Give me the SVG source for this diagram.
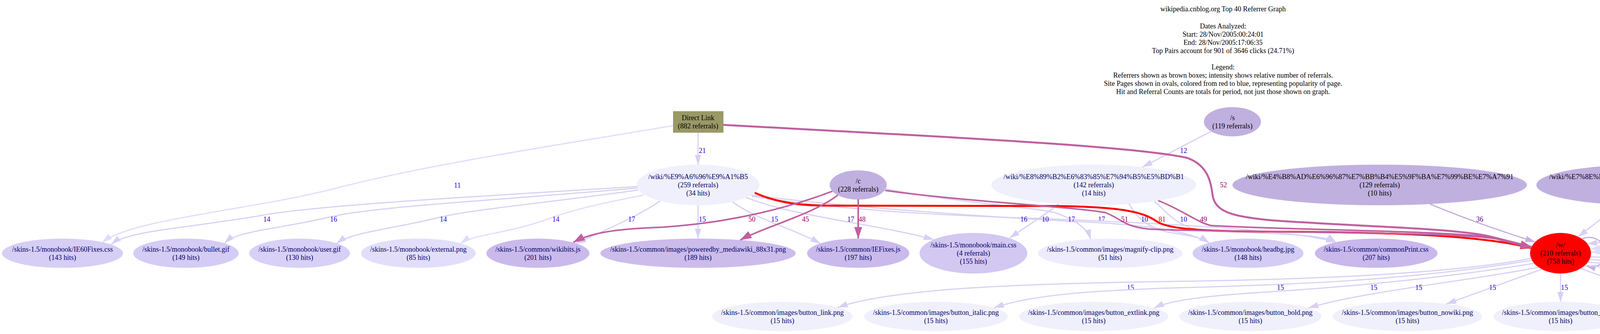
<svg xmlns="http://www.w3.org/2000/svg" width="6265" height="856" viewBox="0 0 6265 856">
<style>
text{font-family:"Liberation Serif","Times New Roman",serif;font-size:18px;text-anchor:middle}
.tr{fill:#000000}
.tp{fill:#000066}
.lb{fill:#3300cc}
.lm{fill:#990066}
.lr{fill:#ee0000}
.ld{fill:#660099}
.e{fill:none}
.e0{stroke:#e0dcfc;stroke-width:3}
.e1{stroke:#d8d0f4;stroke-width:3}
.e2{stroke:#c4b0e2;stroke-width:3}
.em{stroke:#c060a0;stroke-width:4}
.emw{stroke:#c060a0;stroke-width:5}
.er{stroke:#ff0000;stroke-width:5}
.ref{fill:#c0b0e0}
.pg0{fill:#f0f0fc}
</style>
<defs>
<marker id="a0" viewBox="0 0 26 16" refX="25" refY="8" markerWidth="26" markerHeight="16" markerUnits="userSpaceOnUse" orient="auto"><path d="M0,0L26,8L0,16z" fill="#e0dcfc"/></marker>
<marker id="a1" viewBox="0 0 26 16" refX="25" refY="8" markerWidth="26" markerHeight="16" markerUnits="userSpaceOnUse" orient="auto"><path d="M0,0L26,8L0,16z" fill="#d8d0f4"/></marker>
<marker id="a2" viewBox="0 0 26 16" refX="25" refY="8" markerWidth="26" markerHeight="16" markerUnits="userSpaceOnUse" orient="auto"><path d="M0,0L26,8L0,16z" fill="#c4b0e2"/></marker>
<marker id="am" viewBox="0 0 30 20" refX="29" refY="10" markerWidth="30" markerHeight="20" markerUnits="userSpaceOnUse" orient="auto"><path d="M0,0L30,10L0,20z" fill="#c060a0"/></marker>
<marker id="ar" viewBox="0 0 30 20" refX="29" refY="10" markerWidth="30" markerHeight="20" markerUnits="userSpaceOnUse" orient="auto"><path d="M0,0L30,10L0,20z" fill="#ff0000"/></marker>
</defs>
<rect x="0" y="0" width="6265" height="856" fill="#ffffff"/>
<g id="title" class="tr">
<text x="3131" y="29">wikipedia.cnblog.org Top 40 Referrer Graph</text>
<text x="3131" y="73">Dates Analyzed:</text>
<text x="3131" y="94">Start: 28/Nov/2005:00:24:01</text>
<text x="3131" y="115">End: 28/Nov/2005:17:06:35</text>
<text x="3131" y="136">Top Pairs account for 901 of 3646 clicks (24.71%)</text>
<text x="3131" y="178">Legend:</text>
<text x="3131" y="199">Referrers shown as brown boxes; intensity shows relative number of referrals.</text>
<text x="3131" y="220">Site Pages shown in ovals, colored from red to blue, representing popularity of page.</text>
<text x="3131" y="241">Hit and Referral Counts are totals for period, not just those shown on graph.</text>
</g>
<g id="nodes">
<g id="n_direct"><rect x="1723" y="285" width="129" height="55" fill="#999966"/><text class="tr" x="1787" y="308">Direct Link</text><text class="tr" x="1787" y="329">(882 referrals)</text></g>
<g id="n_s"><ellipse class="ref" cx="3155" cy="312" rx="73" ry="37.5"/><text class="tr" x="3155" y="308">/s</text><text class="tr" x="3155" y="329">(119 referrals)</text></g>
<g id="n_shouye"><ellipse class="pg0" cx="1787" cy="474" rx="157" ry="52"/><text class="tp" x="1787" y="459">/wiki/%E9%A6%96%E9%A1%B5</text><text class="tp" x="1787" y="480">(259 referrals)</text><text class="tp" x="1787" y="501">(34 hits)</text></g>
<g id="n_c"><ellipse class="ref" cx="2197" cy="474" rx="73" ry="37.5"/><text class="tr" x="2197" y="470">/c</text><text class="tr" x="2197" y="491">(228 referrals)</text></g>
<g id="n_seqing"><ellipse class="pg0" cx="2800" cy="474" rx="262" ry="52"/><text class="tp" x="2800" y="459">/wiki/%E8%89%B2%E6%83%85%E7%94%B5%E5%BD%B1</text><text class="tp" x="2800" y="480">(142 referrals)</text><text class="tp" x="2800" y="501">(14 hits)</text></g>
<g id="n_zhongwen"><ellipse class="ref" cx="3532" cy="474" rx="377" ry="52"/><text class="tr" x="3532" y="459">/wiki/%E4%B8%AD%E6%96%87%E7%BB%B4%E5%9F%BA%E7%99%BE%E7%A7%91</text><text class="tr" x="3532" y="480">(129 referrals)</text><text class="tr" x="3532" y="501">(10 hits)</text></g>
<g id="n_xiandai"><ellipse class="ref" cx="4207" cy="474" rx="274" ry="52"/><text class="tr" x="4207" y="459">/wiki/%E7%8E%B0%E4%BB%A3%E6%B1%BD%E8%BD%A6</text><text class="tr" x="4207" y="480">(43 referrals)</text><text class="tr" x="4207" y="501">(3 hits)</text></g>
<g id="n_meiguo"><ellipse class="ref" cx="4773" cy="474" rx="270" ry="52"/><text class="tr" x="4773" y="459">/wiki/%E7%BE%8E%E5%9C%8B%E7%B8%BD%E7%B5%B1</text><text class="tr" x="4773" y="480">(42 referrals)</text><text class="tr" x="4773" y="501">(3 hits)</text></g>
<g id="n_talk"><ellipse class="ref" cx="5389" cy="474" rx="322" ry="52"/><text class="tr" x="5389" y="459">/wiki/Wikipedia_talk:%E7%8B%80%E6%B3%81%E5%9B%9E%E5%A0%B1</text><text class="tr" x="5389" y="480">(39 referrals)</text><text class="tr" x="5389" y="501">(3 hits)</text></g>
<g id="n_kongju"><ellipse class="ref" cx="5997" cy="474" rx="261" ry="52"/><text class="tr" x="5997" y="459">/wiki/%E6%81%90%E6%83%A7%E7%8A%B6%E6%80%81</text><text class="tr" x="5997" y="480">(12 referrals)</text><text class="tr" x="5997" y="501">(3 hits)</text></g>

<g id="n_ie60"><ellipse fill="#d6cef4" cx="160" cy="649" rx="155" ry="37.5"/><text class="tp" x="160" y="645">/skins-1.5/monobook/IE60Fixes.css</text><text class="tp" x="160" y="666">(143 hits)</text></g>
<g id="n_bullet"><ellipse fill="#d4ccf4" cx="476" cy="649" rx="135" ry="37.5"/><text class="tp" x="476" y="645">/skins-1.5/monobook/bullet.gif</text><text class="tp" x="476" y="666">(149 hits)</text></g>
<g id="n_user"><ellipse fill="#d8d0f6" cx="767" cy="649" rx="129" ry="37.5"/><text class="tp" x="767" y="645">/skins-1.5/monobook/user.gif</text><text class="tp" x="767" y="666">(130 hits)</text></g>
<g id="n_external"><ellipse fill="#e2defa" cx="1071" cy="649" rx="147" ry="37.5"/><text class="tp" x="1071" y="645">/skins-1.5/monobook/external.png</text><text class="tp" x="1071" y="666">(85 hits)</text></g>
<g id="n_wikibits"><ellipse fill="#cabaec" cx="1377" cy="649" rx="132" ry="37.5"/><text class="tp" x="1377" y="645">/skins-1.5/common/wikibits.js</text><text class="tp" x="1377" y="666">(201 hits)</text></g>
<g id="n_poweredby"><ellipse fill="#ccbcec" cx="1787" cy="649" rx="250" ry="37.5"/><text class="tp" x="1787" y="645">/skins-1.5/common/images/poweredby_mediawiki_88x31.png</text><text class="tp" x="1787" y="666">(189 hits)</text></g>
<g id="n_iefixes"><ellipse fill="#cabaec" cx="2197" cy="649" rx="131" ry="37.5"/><text class="tp" x="2197" y="645">/skins-1.5/common/IEFixes.js</text><text class="tp" x="2197" y="666">(197 hits)</text></g>
<g id="n_main"><ellipse fill="#d2c8f2" cx="2492" cy="649" rx="138" ry="52"/><text class="tp" x="2492" y="634">/skins-1.5/monobook/main.css</text><text class="tp" x="2492" y="655">(4 referrals)</text><text class="tp" x="2492" y="676">(155 hits)</text></g>
<g id="n_magnify"><ellipse fill="#eeecfc" cx="2842" cy="649" rx="185" ry="37.5"/><text class="tp" x="2842" y="645">/skins-1.5/common/images/magnify-clip.png</text><text class="tp" x="2842" y="666">(51 hits)</text></g>
<g id="n_headbg"><ellipse fill="#d4ccf4" cx="3195" cy="649" rx="142" ry="37.5"/><text class="tp" x="3195" y="645">/skins-1.5/monobook/headbg.jpg</text><text class="tp" x="3195" y="666">(148 hits)</text></g>
<g id="n_commonprint"><ellipse fill="#c8b8ec" cx="3523" cy="649" rx="157" ry="37.5"/><text class="tp" x="3523" y="645">/skins-1.5/common/commonPrint.css</text><text class="tp" x="3523" y="666">(207 hits)</text></g>
<g id="n_w"><ellipse fill="#ff0000" cx="3995" cy="649" rx="78" ry="52"/><text class="tr" x="3995" y="634">/w/</text><text class="tr" x="3995" y="655">(210 referrals)</text><text class="tr" x="3995" y="676">(758 hits)</text></g>

<g id="n_link"><ellipse class="pg0" cx="2003" cy="811" rx="180" ry="37.5"/><text class="tp" x="2003" y="807">/skins-1.5/common/images/button_link.png</text><text class="tp" x="2003" y="828">(15 hits)</text></g>
<g id="n_italic"><ellipse class="pg0" cx="2396" cy="811" rx="184" ry="37.5"/><text class="tp" x="2396" y="807">/skins-1.5/common/images/button_italic.png</text><text class="tp" x="2396" y="828">(15 hits)</text></g>
<g id="n_extlink"><ellipse class="pg0" cx="2800" cy="811" rx="191" ry="37.5"/><text class="tp" x="2800" y="807">/skins-1.5/common/images/button_extlink.png</text><text class="tp" x="2800" y="828">(15 hits)</text></g>
<g id="n_bold"><ellipse class="pg0" cx="3201" cy="811" rx="182" ry="37.5"/><text class="tp" x="3201" y="807">/skins-1.5/common/images/button_bold.png</text><text class="tp" x="3201" y="828">(15 hits)</text></g>
<g id="n_nowiki"><ellipse class="pg0" cx="3603" cy="811" rx="191" ry="37.5"/><text class="tp" x="3603" y="807">/skins-1.5/common/images/button_nowiki.png</text><text class="tp" x="3603" y="828">(15 hits)</text></g>
<g id="n_hr"><ellipse class="pg0" cx="3995" cy="811" rx="172" ry="37.5"/><text class="tp" x="3995" y="807">/skins-1.5/common/images/button_hr.png</text><text class="tp" x="3995" y="828">(15 hits)</text></g>
<g id="n_math"><ellipse class="pg0" cx="4380" cy="811" rx="186" ry="37.5"/><text class="tp" x="4380" y="807">/skins-1.5/common/images/button_math.png</text><text class="tp" x="4380" y="828">(15 hits)</text></g>
<g id="n_media"><ellipse class="pg0" cx="4780" cy="811" rx="189" ry="37.5"/><text class="tp" x="4780" y="807">/skins-1.5/common/images/button_media.png</text><text class="tp" x="4780" y="828">(15 hits)</text></g>
<g id="n_image"><ellipse class="pg0" cx="5187" cy="811" rx="190" ry="37.5"/><text class="tp" x="5187" y="807">/skins-1.5/common/images/button_image.png</text><text class="tp" x="5187" y="828">(15 hits)</text></g>
<g id="n_headline"><ellipse class="pg0" cx="5600" cy="811" rx="197" ry="37.5"/><text class="tp" x="5600" y="807">/skins-1.5/common/images/button_headline.png</text><text class="tp" x="5600" y="828">(15 hits)</text></g>
<g id="n_sig"><ellipse class="pg0" cx="6001" cy="811" rx="177" ry="37.5"/><text class="tp" x="6001" y="807">/skins-1.5/common/images/button_sig.png</text><text class="tp" x="6001" y="828">(15 hits)</text></g>
</g>

<g id="connectors">
<path class="e e1" d="M1787,340 L1787,422" marker-end="url(#a1)"/><text class="lb" x="1798" y="392">21</text>
<path class="e e0" d="M1723,322 C1500,360 1100,420 870,480 C640,540 340,560 262,621" marker-end="url(#a0)"/><text class="lb" x="1171" y="481">11</text>
<path class="e e1" d="M1632,478 C1200,505 820,525 670,552 C480,585 330,590 285,626" marker-end="url(#a1)"/><text class="lb" x="683" y="568">14</text>
<path class="e e1" d="M1632,482 C1250,515 950,530 845,556 C700,590 610,590 575,623" marker-end="url(#a1)"/><text class="lb" x="854" y="568">16</text>
<path class="e e1" d="M1634,487 C1400,520 1220,535 1125,557 C990,590 900,595 862,624" marker-end="url(#a1)"/><text class="lb" x="1135" y="568">14</text>
<path class="e e0" d="M1648,500 C1520,525 1460,540 1412,558 C1300,600 1210,600 1180,624" marker-end="url(#a0)"/><text class="lb" x="1423" y="568">14</text>
<path class="e e1" d="M1690,515 C1640,550 1560,585 1475,624" marker-end="url(#a1)"/><text class="lb" x="1617" y="568">17</text>
<path class="e e1" d="M1787,526 L1787,611" marker-end="url(#a1)"/><text class="lb" x="1798" y="568">15</text>
<path class="e e1" d="M1875,517 C1930,560 2040,590 2100,624" marker-end="url(#a1)"/><text class="lb" x="1983" y="568">15</text>
<path class="e e1" d="M1910,506 C2030,555 2250,575 2390,614" marker-end="url(#a1)"/><text class="lb" x="2178" y="568">17</text>
<path class="e e1" d="M1923,500 C2200,535 2600,560 2800,570 C2950,578 3050,595 3095,622" marker-end="url(#a1)"/><text class="lb" x="2820" y="568">17</text>
<path class="e e1" d="M1925,503 C2200,545 2500,555 2665,560 C2900,570 3300,585 3420,621" marker-end="url(#a1)"/><text class="lb" x="2676" y="568">10</text>
<path class="e e1" d="M2268,484 C2450,520 2640,530 2700,545 C2760,565 2785,590 2792,613" marker-end="url(#a1)"/><text class="lb" x="2743" y="568">17</text>
<path class="e e1" d="M2710,523 C2670,555 2620,585 2585,610" marker-end="url(#a1)"/><text class="lb" x="2621" y="568">16</text>
<path class="e e1" d="M2890,522 C2910,555 2930,580 2990,595 C3040,603 3075,608 3095,622" marker-end="url(#a1)"/><text class="lb" x="2930" y="568">10</text>
<path class="e e1" d="M2955,516 C2990,545 3010,580 3080,592 C3250,598 3390,600 3420,621" marker-end="url(#a1)"/><text class="lb" x="3030" y="568">10</text>
<path class="e e1" d="M3100,337 L2925,428" marker-end="url(#a1)"/><text class="lb" x="3030" y="392">12</text>
<path class="e er" d="M1932,494 C1990,520 2050,527 2117,527 L2700,528 C2880,530 2930,545 2962,568 C2995,590 3100,593 3300,594 C3600,596 3800,605 3921,636" marker-end="url(#ar)"/><text class="lr" x="2975" y="568">81</text>
<path class="e em" d="M2131,490 C2000,540 1850,572 1700,582 C1600,586 1520,592 1468,621" marker-end="url(#am)"/><text class="lm" x="1925" y="568">50</text>
<path class="e em" d="M2145,500 C2080,550 1960,580 1895,615" marker-end="url(#am)"/><text class="lm" x="2062" y="568">45</text>
<path class="e em" d="M2197,511 L2197,611" marker-end="url(#am)"/><text class="lm" x="2207" y="568">48</text>
<path class="e em" d="M2266,488 C2450,515 2750,530 2830,545 C2870,560 2875,580 2940,587 C3100,596 3700,592 3830,612 L3921,635" marker-end="url(#am)"/><text class="lm" x="2879" y="568">51</text>
<path class="e em" d="M2965,514 C3030,540 3065,570 3100,578 C3300,590 3700,590 3830,610 L3921,634" marker-end="url(#am)"/><text class="lm" x="3081" y="568">49</text>
<path class="e emw" d="M1852,320 C2300,345 2900,372 3040,405 C3095,425 3100,470 3105,505 C3115,545 3160,556 3260,565 C3500,582 3750,585 3830,610 L3921,633" marker-end="url(#am)"/><text class="lm" x="3132" y="480">52</text>
<path class="e e2" d="M3661,523 C3750,560 3850,595 3930,620" marker-end="url(#a2)"/><text class="ld" x="3788" y="568">36</text>
<path class="e e1" d="M4145,525 L4040,607" marker-end="url(#a1)"/><text class="lb" x="4117" y="568">13</text>
<path class="e e1" d="M4597,513 C4450,560 4250,605 4064,625" marker-end="url(#a1)"/><text class="lb" x="4438" y="568">13</text>
<path class="e e0" d="M5164,511 C4900,555 4400,615 4071,638" marker-end="url(#a0)"/><text class="lb" x="4886" y="568">12</text>
<path class="e e0" d="M5819,512 C5500,570 4600,635 4073,646" marker-end="url(#a0)"/><text class="lb" x="5543" y="568">11</text>
<path class="e e2" d="M4050,612 C4120,588 4135,700 4060,681" marker-end="url(#a2)"/>
<path class="e e1" d="M3920,662 C3700,705 3300,718 2950,722 C2600,728 2280,740 2145,788" marker-end="url(#a1)"/><text class="lb" x="2894" y="743">15</text>
<path class="e e1" d="M3922,667 C3600,720 3300,730 3000,738 C2800,745 2640,755 2545,789" marker-end="url(#a1)"/><text class="lb" x="3278" y="743">15</text>
<path class="e e1" d="M3927,675 C3700,712 3450,735 3250,748 C3100,757 3000,768 2955,789" marker-end="url(#a1)"/><text class="lb" x="3517" y="743">15</text>
<path class="e e1" d="M3939,685 C3750,722 3500,745 3350,789" marker-end="url(#a1)"/><text class="lb" x="3632" y="743">15</text>
<path class="e e1" d="M3947,690 L3703,779" marker-end="url(#a1)"/><text class="lb" x="3821" y="743">15</text>
<path class="e e1" d="M3995,701 L3995,773" marker-end="url(#a1)"/><text class="lb" x="4005" y="743">15</text>
<path class="e e1" d="M4047,688 L4290,778" marker-end="url(#a1)"/><text class="lb" x="4228" y="743">15</text>
<path class="e e1" d="M4058,680 C4250,700 4420,728 4640,786" marker-end="url(#a1)"/><text class="lb" x="4462" y="743">15</text>
<path class="e e1" d="M4065,672 C4300,690 4700,730 5040,787" marker-end="url(#a1)"/><text class="lb" x="4801" y="743">15</text>
<path class="e e1" d="M4069,665 C4500,690 5100,740 5450,787" marker-end="url(#a1)"/><text class="lb" x="5166" y="743">15</text>
<path class="e e1" d="M4072,658 C4600,680 5400,730 5862,788" marker-end="url(#a1)"/><text class="lb" x="5569" y="743">15</text>
</g>
</svg>
